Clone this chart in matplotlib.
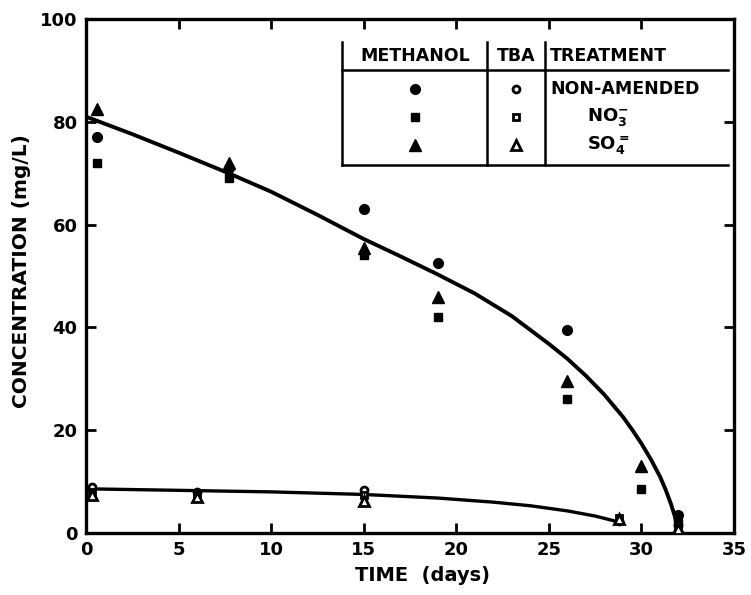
import matplotlib.pyplot as plt
from matplotlib.lines import Line2D

plt.rcParams['font.family'] = ['DejaVu Sans']
plt.rcParams['font.weight'] = 'bold'

# methanol (filled markers)
meoh_days_na = [0.6, 7.7, 15, 19, 26, 32]
meoh_na = [77, 71, 63, 52.5, 39.5, 3.5]
meoh_days_no3 = [0.6, 7.7, 15, 19, 26, 30, 32]
meoh_no3 = [72, 69, 54, 42, 26, 8.5, 2]
meoh_days_so4 = [0.6, 7.7, 15, 19, 26, 30, 32]
meoh_so4 = [82.5, 72, 55.5, 46, 29.5, 13, 1]

# TBA (open markers)
tba_days = [0.3, 6, 15, 28.8, 32]
tba_na = [9, 8, 8.3, 2.3, 1.5]
tba_no3 = [8, 7.5, 7.3, 3, 1]
tba_so4 = [7.3, 7, 6.2, 2.8, 0.8]

# fitted curves
meoh_fit_x = [0, 2.5, 5, 7.7, 10, 12.5, 15, 17, 19, 21, 23, 25, 26, 27, 28, 29,
              29.5, 30, 30.5, 31, 31.3, 31.6, 31.8, 32]
meoh_fit_y = [81, 77.6, 74, 70, 66.4, 61.9, 57.2, 53.8, 50.3, 46.6, 42.2, 36.8,
              33.9, 30.6, 26.9, 22.6, 20.1, 17.4, 14.4, 11, 8.5, 5.6, 3.3, 0]
tba_fit_x = [0, 5, 10, 15, 19, 22, 24, 26, 27.5, 28.6]
tba_fit_y = [8.6, 8.3, 8.0, 7.5, 6.8, 6.0, 5.3, 4.3, 3.3, 2.3]

treatments = ['NON-AMENDED', r'NO$_3^{\mathbf{-}}$', r'SO$_4^{\mathbf{=}}$']

fig = plt.figure(figsize=(7.51, 5.95), dpi=100)
ax = fig.add_axes([86 / 751, 62 / 595, 648 / 751, 514 / 595])

ax.plot(meoh_fit_x, meoh_fit_y, color='black', lw=2.8, zorder=2,
        solid_joinstyle='round')
ax.plot(tba_fit_x, tba_fit_y, color='black', lw=2.4, zorder=2,
        solid_joinstyle='round')

ax.plot(meoh_days_na, meoh_na, 'o', color='black', ms=7, ls='none', zorder=3)
ax.plot(meoh_days_no3, meoh_no3, 's', color='black', ms=6, ls='none', zorder=3)
ax.plot(meoh_days_so4, meoh_so4, '^', color='black', ms=9, ls='none', zorder=3)

ax.plot(tba_days, tba_na, 'o', mfc='white', mec='black', mew=2, ms=5, ls='none', zorder=4)
ax.plot(tba_days, tba_no3, 's', mfc='white', mec='black', mew=2, ms=5, ls='none', zorder=4)
ax.plot(tba_days, tba_so4, '^', mfc='white', mec='black', mew=2, ms=7, ls='none', zorder=4)

ax.set_xlim(0, 35)
ax.set_ylim(0, 100)
ax.set_xticks(range(0, 36, 5))
ax.set_yticks(range(0, 101, 20))
ax.tick_params(direction='in', length=7, width=2, labelsize=13, pad=6,
               top=True, right=True)
for s in ax.spines.values():
    s.set_linewidth(2.4)
for lab in ax.get_xticklabels() + ax.get_yticklabels():
    lab.set_fontweight('bold')
ax.set_xlabel('TIME  (days)', fontsize=14, fontweight='bold', labelpad=5)
ax.xaxis.set_label_coords(0.52, -0.065)
ax.set_ylabel('CONCENTRATION (mg/L)', fontsize=14.5, fontweight='bold', labelpad=6)
ax.yaxis.set_label_coords(-0.085, 0.51)

# legend table, drawn in figure pixel coordinates
def px(x, y):
    return x / 751, 1 - y / 595

tab_lines = [((342, 42), (342, 165)), ((487, 42), (487, 165)), ((545, 42), (545, 165)),
             ((342, 70), (728, 70)), ((342, 165), (728, 165))]
for (x0, y0), (x1, y1) in tab_lines:
    a, b = px(x0, y0)
    c, d = px(x1, y1)
    fig.add_artist(Line2D([a, c], [b, d], color='black', lw=1.8))

hdr_y = 56
for txt, xc in [('METHANOL', 415), ('TBA', 516), ('TREATMENT', 550)]:
    x, y = px(xc, hdr_y)
    fig.text(x, y, txt, ha='left' if txt == 'TREATMENT' else 'center',
             va='center', fontsize=12.5, fontweight='bold')

row_y = [89, 117, 145]
filled = ['o', 's', '^']
sizes = [7, 6, 9]
opens = [5, 5, 7]
for i in range(3):
    x, y = px(415, row_y[i])
    fig.add_artist(Line2D([x], [y], marker=filled[i], color='black', ms=sizes[i], ls='none'))
    x, y = px(516, row_y[i])
    fig.add_artist(Line2D([x], [y], marker=filled[i], mfc='white', mec='black',
                          mew=2, ms=opens[i], ls='none'))
    if i == 0:
        x, y = px(550, row_y[i])
        fig.text(x, y, treatments[i], ha='left', va='center', fontsize=12.5, fontweight='bold')
    else:
        x, y = px(608, row_y[i])
        fig.text(x, y, treatments[i], ha='center', va='center', fontsize=13, fontweight='bold')

fig.savefig('out.png', dpi=100)
